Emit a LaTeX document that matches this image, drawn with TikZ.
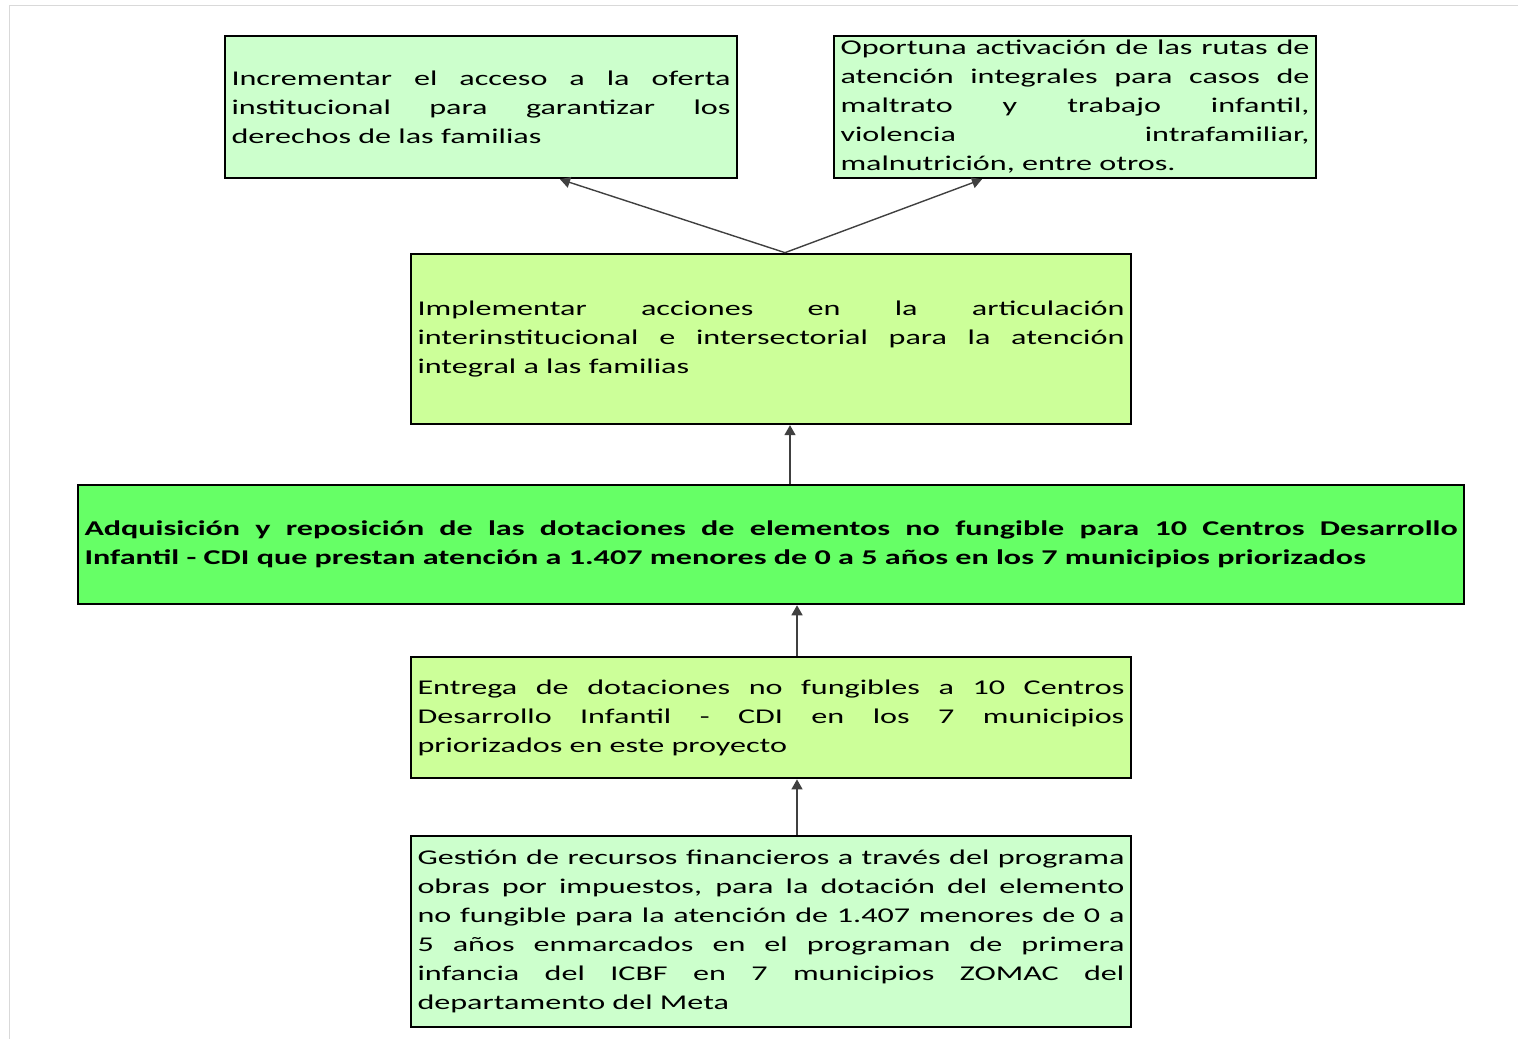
\documentclass[tikz,border=0pt]{standalone}
\usepackage{fontspec}
\setmainfont[FakeStretch=1.53]{Carlito}
\usepackage{tikz}
\usetikzlibrary{shapes,arrows,arrows.meta,positioning}
\definecolor{paleGreen}{HTML}{CCFFCC}
\definecolor{limeGreen}{HTML}{CCFF99}
\definecolor{brightGreen}{HTML}{66FF66}
\definecolor{frameGray}{HTML}{D9D9D9}
\hyphenpenalty=10000
\exhyphenpenalty=10000
\tolerance=10000

\begin{document}
\begin{tikzpicture}[
    box/.style={draw, line width=1.25pt, inner xsep=3.25pt, align=justify,
        font=\fontsize{10.5}{14.5}\selectfont},
    arrow/.style={->, >={Triangle[length=5pt,width=5.5pt]}, line width=0.7pt, draw=black!75}
]
\useasboundingbox (0,0) rectangle (759pt,-519.5pt);
\draw[frameGray, line width=0.5pt] (759pt,-2.5pt) -- (4.5pt,-2.5pt) -- (4.5pt,-519.5pt);

\node[box, fill=brightGreen, text width=686.5pt, minimum height=59.5pt,
    font=\fontsize{10.5}{14.5}\selectfont\bfseries] (main) at (385.5pt,-272.25pt)
    {Adquisición y reposición de las dotaciones de elementos no fungible para 10 Centros Desarrollo\linebreak Infantil - CDI que prestan atención a 1.407 menores de 0 a 5 años en los 7 municipios priorizados};
\node[box, fill=limeGreen, text width=353.5pt, minimum height=85pt, above=29.3pt of main] (mid)
    {Implementar acciones en la articulación\linebreak interinstitucional e intersectorial para la atención\linebreak integral a las familias};
\node[box, fill=limeGreen, text width=353.5pt, minimum height=60.5pt, below=25.3pt of main] (delivery)
    {Entrega de dotaciones no fungibles a 10 Centros\linebreak Desarrollo Infantil - CDI en los 7 municipios\linebreak priorizados en este proyecto};
\node[box, fill=paleGreen, text width=353.5pt, minimum height=95.5pt, below=27.8pt of delivery] (funding)
    {Gestión de recursos financieros a través del programa\linebreak obras por impuestos, para la dotación del elemento\linebreak no fungible para la atención de 1.407 menores de 0 a\linebreak 5 años enmarcados en el programan de primera\linebreak infancia del ICBF en 7 municipios ZOMAC del\linebreak departamento del Meta};
\node[box, fill=paleGreen, text width=249.5pt, minimum height=71pt] (access) at (240.5pt,-53.5pt)
    {Incrementar el acceso a la oferta\linebreak institucional para garantizar los\linebreak derechos de las familias};
\node[box, fill=paleGreen, text width=234.5pt, minimum height=71pt, inner ysep=0.5pt] (routes) at (537.5pt,-53.5pt)
    {Oportuna activación de las rutas de\linebreak atención integrales para casos de\linebreak maltrato y trabajo infantil,\linebreak violencia intrafamiliar,\linebreak malnutrición, entre otros.};

\coordinate (fork) at ([xshift=7pt]mid.north);
\draw[arrow] (fork) -- ([xshift=39.5pt]access.south);
\draw[arrow] (fork) -- ([xshift=-46.5pt]routes.south);
\draw[arrow] ([xshift=9.5pt]main.north) -- ([xshift=9.5pt]main.north |- mid.south);
\draw[arrow] ([xshift=13pt]delivery.north) -- ([xshift=13pt]delivery.north |- main.south);
\draw[arrow] ([xshift=13pt]funding.north) -- ([xshift=13pt]funding.north |- delivery.south);

\end{tikzpicture}
\end{document}
